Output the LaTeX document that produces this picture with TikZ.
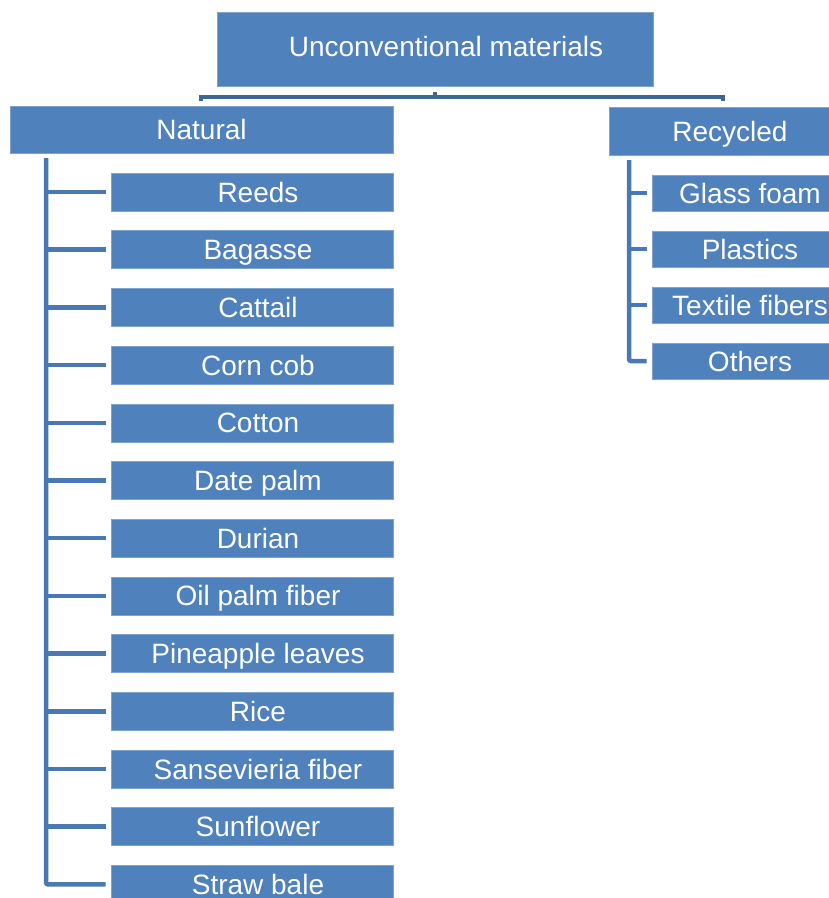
\documentclass[tikz,border=0pt]{standalone}
\usepackage{fontspec}
\setmainfont{Liberation Sans}
\begin{document}
\begin{tikzpicture}[x=1pt,y=-1pt,
  box/.style={fill=boxblue, draw=boxedge, line width=0.6pt, inner sep=0pt, text=white,
    font=\fontsize{28}{31}\selectfont, text height=20pt, text depth=0pt},
  lbl/.style={text=white, inner sep=0pt, font=\fontsize{28}{31}\selectfont, text height=20pt, text depth=0pt},
  leaf/.style={box, minimum width=282pt, minimum height=38pt},
  rleaf/.style={box, minimum width=196pt, minimum height=36pt},
  tree/.style={draw=lineblue, line width=4.5pt},
  conn/.style={draw=topline, line width=3.5pt}]
\definecolor{boxblue}{HTML}{4F81BD}
\definecolor{boxedge}{HTML}{7FA3CF}
\definecolor{lineblue}{HTML}{4A78B2}
\definecolor{topline}{HTML}{3D6596}
\useasboundingbox (0,0) rectangle (829,898);
\clip (0,0) rectangle (829,898);
\fill[white] (0,0) rectangle (829,898);

% top node
\node[box, minimum width=436pt, minimum height=74pt,
  label={[lbl, xshift=11pt, yshift=2.5pt]center:Unconventional materials}] (top) at (435,49) {};
\node[box, minimum width=383pt, minimum height=47pt] (natural) at (201.5,129.5) {Natural};
\node[box, minimum width=242pt, minimum height=48pt] (recycled) at (730,131) {Recycled};

% top connector
\coordinate (tl) at (201,101);
\coordinate (tr) at (723,101);
\draw[conn] ([yshift=-6pt]top.south) -- ([yshift=-11pt]top.south);
\draw[conn] (tl) -- (tl |- 0,97) -- (tr |- 0,97) -- (tr);

% natural leaves
\foreach \n/\t [count=\i from 0] in {reeds/Reeds, bagasse/Bagasse, cattail/Cattail, corncob/Corn cob,
  cotton/Cotton, datepalm/Date palm, durian/Durian, oilpalm/Oil palm fiber,
  pineapple/Pineapple leaves, rice/Rice, sansevieria/Sansevieria fiber,
  sunflower/Sunflower, straw/Straw bale}{
  \node[leaf, label={[lbl, xshift=6pt]center:\t}] (\n) at (252,{192+57.7*\i}) {};
}

\coordinate (ltop) at (46,158);
\draw[tree, rounded corners=2pt] (ltop) |- ([xshift=-5pt]straw.west);
\foreach \n in {reeds, bagasse, cattail, corncob, cotton, datepalm, durian, oilpalm,
  pineapple, rice, sansevieria, sunflower}{
  \draw[tree] (ltop |- \n.west) -- ([xshift=-5pt]\n.west);
}

% recycled leaves
\foreach \n/\t [count=\i from 0] in {glass/Glass foam, plastics/Plastics, textile/Textile fibers, others/Others}{
  \node[rleaf] (\n) at (750,{193+56*\i}) {\t};
}
\coordinate (rtop) at (629,160);
\draw[tree, rounded corners=2pt] (rtop) |- ([xshift=-5pt]others.west);
\foreach \n in {glass, plastics, textile}{
  \draw[tree] (rtop |- \n.west) -- ([xshift=-5pt]\n.west);
}
\end{tikzpicture}
\end{document}
